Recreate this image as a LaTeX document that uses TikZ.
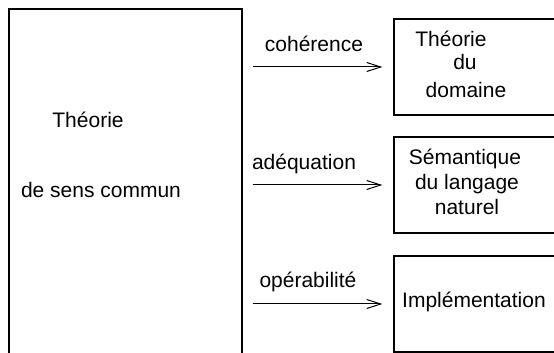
\documentclass[tikz,border=0pt]{standalone}
\usepackage{fontspec}
\setmainfont{Liberation Sans}
\usepackage{tikz}
\usetikzlibrary{arrows.meta,positioning}

\begin{document}
\begin{tikzpicture}[
  x=0.5pt,y=-0.5pt,
  font=\fontsize{10.5}{12.5}\selectfont,
  box/.style={rectangle,draw,line width=0.65pt,inner sep=0pt},
  lbl/.style={anchor=base,inner sep=0pt},
  arr/.style={-{Straight Barb[length=7pt,width=4.5pt]},line width=0.5pt,
              shorten <=5pt,shorten >=5.5pt}
]
\useasboundingbox (0,0) rectangle (554,353);
\clip (0,0) rectangle (554,353);
% left: common-sense theory
\node[box,minimum width=116.5pt,minimum height=185.5pt] (sens) at (125.5,194.5) {};
\node[lbl] (sens1) at (88,128) {Théorie};
\node[lbl] (sens2) at (101,198) {de sens commun};
% right column
\node[box,minimum width=90.5pt,minimum height=48pt] (dom) at (484.5,67) {};
\node[box,minimum width=90.5pt,minimum height=48pt] (sem) at (484.5,185) {};
\node[box,minimum width=90.5pt,minimum height=48pt] (imp) at (484.5,304) {};
\node[lbl] (dom1) at (451,47) {Théorie};
\node[lbl] (dom2) at (465,70) {du};
\node[lbl] (dom3) at (466,98) {domaine};
\node[lbl] (sem1) at (465,165) {Sémantique};
\node[lbl] (sem2) at (467,190) {du langage};
\node[lbl] (sem3) at (467,215) {naturel};
\node[lbl] (imp1) at (474,308) {Implémentation};
% relations
\draw[arr] (sens.east |- dom.west) -- (dom.west);
\draw[arr] (sens.east |- sem.west) -- (sem.west);
\draw[arr] (sens.east |- imp.west) -- (imp.west);
\node[lbl] (coh) at (314,52) {cohérence};
\node[lbl] (adq) at (304,170) {adéquation};
\node[lbl] (ope) at (308,288) {opérabilité};
\end{tikzpicture}
\end{document}
